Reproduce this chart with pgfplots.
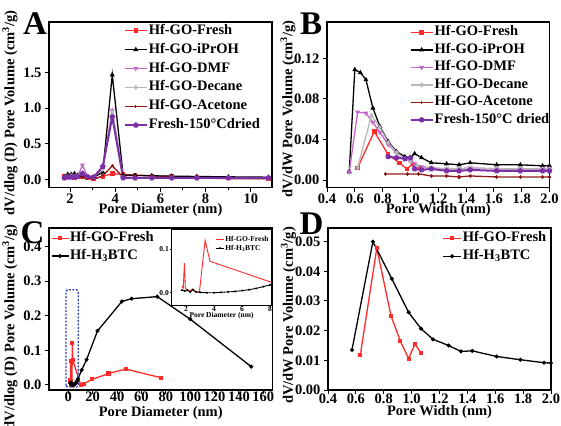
\documentclass[border=0pt]{standalone}
\usepackage{fontspec}
\setmainfont{Liberation Serif}
\usepackage{pgfplots}
\pgfplotsset{compat=1.18}
\usepackage{pgfplotstable}

\definecolor{cred}{HTML}{FF2A2A}
\definecolor{cmag}{HTML}{C266CC}
\definecolor{cgray}{HTML}{B8B8B8}
\definecolor{cdred}{HTML}{8F1A1A}
\definecolor{cpur}{HTML}{7B2FA5}
\definecolor{cblue}{HTML}{2F3FBF}

\newcommand{\fs}{\fontsize{14.5}{15}\selectfont\bfseries}
\newcommand{\fsi}{\fontsize{7.5}{8}\selectfont\bfseries}

\pgfplotsset{
  panel/.style={
    scale only axis,
    scaled ticks=false,
    tick pos=left, tick align=outside,
    axis line style={line width=1.3pt},
    every tick/.style={line width=1pt, black},
    major tick length=4pt, minor tick length=2.5pt,
    tick label style={font=\fs},
    xticklabel style={yshift=1.5pt},
    label style={font=\fs},
    /pgf/number format/assume math mode=true,
    legend cell align=left,
    legend style={draw=none, fill=none, font=\fs, row sep=3pt, inner sep=1pt,
      nodes={inner sep=1pt, text height=10pt, text depth=3pt}},
    legend image code/.code={\draw[mark repeat=2,mark phase=2,##1] plot coordinates {(0pt,0pt) (11pt,0pt) (22pt,0pt)};},
    every axis plot/.append style={line width=1.3pt, mark size=1.6pt},
  },
  fx1/.style={xticklabel={\pgfmathprintnumber[fixed,fixed zerofill,precision=1,assume math mode=true]{\tick}}},
  fy1/.style={yticklabel={\pgfmathprintnumber[fixed,fixed zerofill,precision=1,assume math mode=true]{\tick}}},
  fy2/.style={yticklabel={\pgfmathprintnumber[fixed,fixed zerofill,precision=2,assume math mode=true]{\tick}}},
}

\pgfplotstableread{
x y
1.7 0.015
1.8 0.010
1.88 0.068
1.95 0.010
2.1 0.006
2.3 0.004
2.45 0.009
2.6 0.004
2.95 0.001
3.36 0.120
3.71 0.072
10.2 0.001
13 0.004
19.5 0.016
33 0.033
47 0.046
76 0.021
}\cfresh

\pgfplotstableread{
x y
1.7 0.006
1.9 0.004
2.1 0.006
2.3 0.002
2.5 0.007
2.7 0.002
3.0 0.001
3.5 0.000
4.0 0.000
4.5 0.001
5.0 0.002
5.5 0.003
6.0 0.005
6.5 0.007
7.0 0.010
7.5 0.014
8.0 0.018
11 0.043
15 0.073
24 0.156
44 0.241
52 0.249
73 0.255
100 0.190
150 0.053
}\cbtc

\begin{document}
\begin{tikzpicture}
% ---------------- A ----------------
\begin{axis}[panel, at={(49pt,-187.5pt)}, anchor=south west,
  width=223pt, height=165.5pt,
  xmin=1.07, xmax=10.94, ymin=-0.115, ymax=2.214,
  xtick={2,4,6,8,10}, minor x tick num=1, ytick={0,0.5,1,1.5},
  fy1,
  xlabel={Pore Diameter (nm)},
  ylabel={dV/dlog (D) Pore Volume (cm\textsuperscript{3}/g)},
  xlabel style={at={(axis description cs:0.5,-0.136)}, anchor=center},
  ylabel style={at={(axis description cs:-0.175,0.45)}, anchor=center},
  legend style={at={(axis description cs:0.33,1.0)}, anchor=north west, row sep=3.9pt},
]
\addplot[cred, mark=square*] coordinates {(1.75,0.04)(1.9,0.03)(2.05,0.03)(2.2,0.02)(2.35,0.03)(2.55,0.03)(2.75,0.02)(3.05,0.01)(3.45,0.04)(3.87,0.08)(4.35,0.07)(4.88,0.06)(5.62,0.05)(6.5,0.04)(7.61,0.03)(9.01,0.02)(10.78,0.01)};
\addlegendentry{Hf-GO-Fresh}
\addplot[black, mark=triangle*] coordinates {(1.75,0.04)(1.9,0.07)(2.05,0.07)(2.2,0.08)(2.35,0.06)(2.55,0.05)(2.75,0.03)(3.05,0.03)(3.45,0.10)(3.87,1.47)(4.35,0.06)(4.88,0.055)(5.62,0.05)(6.5,0.045)(7.61,0.04)(9.01,0.035)(10.78,0.03)};
\addlegendentry{Hf-GO-iPrOH}
\addplot[cmag, mark=triangle*, mark options={rotate=180}] coordinates {(1.75,0.02)(1.9,0.04)(2.05,0.04)(2.2,0.05)(2.35,0.05)(2.55,0.20)(2.75,0.05)(3.05,0.04)(3.45,0.17)(3.87,0.97)(4.35,0.03)(4.88,0.02)(5.62,0.02)(6.5,0.02)(7.61,0.02)(9.01,0.02)(10.78,0.02)};
\addlegendentry{Hf-GO-DMF}
\addplot[cgray, mark=diamond*] coordinates {(1.75,0.03)(1.9,0.04)(2.05,0.05)(2.2,0.04)(2.35,0.05)(2.55,0.09)(2.75,0.04)(3.05,0.04)(3.45,0.14)(3.87,0.95)(4.35,0.03)(4.88,0.02)(5.62,0.02)(6.5,0.02)(7.61,0.02)(9.01,0.02)(10.78,0.02)};
\addlegendentry{Hf-GO-Decane}
\addplot[cdred, mark=+] coordinates {(1.75,0.03)(1.9,0.04)(2.05,0.03)(2.2,0.04)(2.35,0.03)(2.55,0.03)(2.75,0.01)(3.05,0.00)(3.45,0.05)(3.87,0.19)(4.35,0.03)(4.88,0.02)(5.62,0.02)(6.5,0.02)(7.61,0.02)(9.01,0.01)(10.78,0.01)};
\addlegendentry{Hf-GO-Acetone}
\addplot[cpur, line width=2pt, mark=pentagon*, mark size=1.8pt] coordinates {(1.75,0.02)(1.9,0.03)(2.05,0.03)(2.2,0.03)(2.35,0.04)(2.55,0.08)(2.75,0.04)(3.05,0.03)(3.45,0.18)(3.87,0.88)(4.35,0.02)(4.88,0.02)(5.62,0.02)(6.5,0.02)(7.61,0.02)(9.01,0.02)(10.78,0.02)};
\addlegendentry{Fresh-150°Cdried}
\end{axis}

% ---------------- B ----------------
\begin{axis}[panel, at={(327pt,-187.5pt)}, anchor=south west,
  width=222.5pt, height=165.5pt,
  xmin=0.4, xmax=2.0, ymin=-0.0074, ymax=0.156,
  xtick={0.4,0.6,0.8,1.0,1.2,1.4,1.6,1.8,2.0}, ytick={0,0.04,0.08,0.12},
  fx1, fy2,
  xlabel={Pore Width (nm)},
  ylabel={dV/dW Pore Volume (cm\textsuperscript{3}/g)},
  xlabel style={at={(axis description cs:0.5,-0.136)}, anchor=center},
  ylabel style={at={(axis description cs:-0.175,0.474)}, anchor=center},
  legend style={at={(axis description cs:0.366,0.99)}, anchor=north west, row sep=2.5pt},
]
\addplot[cred, mark=square*] coordinates {(0.62,0.012)(0.74,0.048)(0.84,0.025)(0.92,0.017)(0.975,0.011)(1.02,0.016)(1.06,0.013)};
\addlegendentry{Hf-GO-Fresh}
\addplot[black, mark=triangle*] coordinates {(0.56,0.008)(0.60,0.109)(0.64,0.106)(0.68,0.099)(0.73,0.071)(0.78,0.053)(0.84,0.038)(0.90,0.028)(0.96,0.023)(1.00,0.022)(1.03,0.026)(1.08,0.022)(1.15,0.017)(1.26,0.016)(1.35,0.015)(1.43,0.017)(1.62,0.015)(1.79,0.015)(1.95,0.014)(2.0,0.014)};
\addlegendentry{Hf-GO-iPrOH}
\addplot[cmag, mark=triangle*, mark options={rotate=180}] coordinates {(0.56,0.008)(0.62,0.067)(0.68,0.066)(0.73,0.057)(0.78,0.047)(0.84,0.035)(0.90,0.027)(0.96,0.021)(1.00,0.018)(1.03,0.016)(1.08,0.013)(1.15,0.012)(1.26,0.011)(1.35,0.011)(1.43,0.012)(1.62,0.011)(1.79,0.011)(1.95,0.011)(2.0,0.011)};
\addlegendentry{Hf-GO-DMF}
\addplot[cgray, mark=diamond*] coordinates {(0.62,0.012)(0.72,0.064)(0.78,0.052)(0.84,0.037)(0.90,0.027)(0.96,0.021)(1.0,0.018)(1.05,0.014)(1.15,0.012)(1.26,0.011)(1.35,0.011)(1.43,0.012)(1.62,0.011)(1.79,0.011)(1.95,0.011)(2.0,0.011)};
\addlegendentry{Hf-GO-Decane}
\addplot[cdred, mark=+] coordinates {(0.82,0.006)(0.98,0.006)(1.06,0.006)(1.15,0.004)(1.26,0.004)(1.35,0.003)(1.43,0.004)(1.62,0.003)(1.79,0.003)(1.95,0.003)(2.0,0.003)};
\addlegendentry{Hf-GO-Acetone}
\addplot[cpur, line width=2pt, mark=pentagon*, mark size=1.8pt] coordinates {(0.84,0.023)(0.90,0.022)(0.96,0.021)(1.0,0.022)(1.03,0.011)(1.08,0.010)(1.15,0.011)(1.26,0.009)(1.35,0.009)(1.43,0.010)(1.62,0.009)(1.79,0.009)(1.95,0.009)(2.0,0.009)};
\addlegendentry{Fresh-150°C dried}
\end{axis}

% ---------------- C ----------------
\begin{axis}[panel, at={(49pt,-390pt)}, anchor=south west,
  width=223.5pt, height=162pt,
  xmin=-15.8, xmax=167.5, ymin=-0.0145, ymax=0.453,
  xtick={0,20,...,160}, ytick={0,0.1,0.2,0.3,0.4},
  fy1,
  xticklabel style={yshift=4pt},
  xlabel={Pore Diameter (nm)},
  ylabel={dV/dlog (D) Pore Volume (cm\textsuperscript{3}/g)},
  xlabel style={at={(axis description cs:0.5,-0.14)}, anchor=center},
  ylabel style={at={(axis description cs:-0.175,0.39)}, anchor=center},
  legend style={at={(axis description cs:0.003,0.99)}, anchor=north west, row sep=2.7pt},
  legend image code/.code={\draw[mark repeat=2,mark phase=2,#1] plot coordinates {(0pt,0pt) (8.5pt,0pt) (17pt,0pt)};},
]
\addplot[cred, mark=square*, mark size=1.4pt] table[x=x,y=y] {\cfresh};
\addlegendentry{Hf-GO-Fresh}
\addplot[black, mark=*, mark size=1.3pt] table[x=x,y=y] {\cbtc};
\addlegendentry{Hf-H\textsubscript{3}BTC}
\draw[cblue, line width=1.3pt, dash pattern=on 2pt off 1.5pt, rounded corners=1.5pt]
  (axis cs:-1.9,-0.006) rectangle (axis cs:8.2,0.275);
\end{axis}

% inset
\begin{axis}[scale only axis, at={(171.5pt,-305pt)}, anchor=south west,
  width=100pt, height=76pt,
  axis background/.style={fill=white},
  xmin=0.96, xmax=8.1, ymin=-0.028, ymax=0.146,
  scaled ticks=false,
  tick pos=left, tick align=outside, major tick length=1.5pt,
  axis line style={line width=0.8pt},
  every tick/.style={line width=0.6pt, black},
  xtick={2,4,6,8}, ytick={0,0.1},
  tick label style={font=\fsi, inner sep=1pt},
  xticklabel style={yshift=1pt},
  /pgf/number format/assume math mode=true,
  fy1,
  xlabel={Pore Diameter (nm)},
  xlabel style={font=\fsi, at={(axis description cs:0.5,-0.145)}, anchor=center},
  legend cell align=left,
  legend style={draw=none, fill=none, font=\fsi, at={(axis description cs:0.41,0.95)}, anchor=north west, row sep=0pt,
    nodes={inner sep=0.8pt, text height=5.5pt, text depth=1.6pt}},
  legend image code/.code={\draw[mark repeat=2,mark phase=2,#1] plot coordinates {(0pt,0pt) (4pt,0pt) (8pt,0pt)};},
]
\addplot[cred, line width=0.9pt, mark=none] table[x=x,y=y] {\cfresh};
\addlegendentry{Hf-GO-Fresh}
\addplot[black, line width=0.9pt, mark=*, mark size=0.5pt] table[x=x,y=y] {\cbtc};
\addlegendentry{Hf-H\textsubscript{3}BTC}
\end{axis}

% ---------------- D ----------------
\begin{axis}[panel, at={(328pt,-390pt)}, anchor=south west,
  width=223pt, height=162pt,
  xmin=0.4, xmax=2.0, ymin=0, ymax=0.0546,
  xtick={0.4,0.6,0.8,1.0,1.2,1.4,1.6,1.8,2.0}, ytick={0,0.01,0.02,0.03,0.04,0.05},
  fx1, fy2,
  xticklabel style={yshift=2.5pt},
  xlabel={Pore Width (nm)},
  ylabel={dV/dW Pore Volume (cm\textsuperscript{3}/g)},
  xlabel style={at={(axis description cs:0.5,-0.138)}, anchor=center},
  ylabel style={at={(axis description cs:-0.177,0.46)}, anchor=center},
  legend style={at={(axis description cs:0.508,0.99)}, anchor=north west, row sep=3pt},
  legend image code/.code={\draw[mark repeat=2,mark phase=2,#1] plot coordinates {(0pt,0pt) (9pt,0pt) (18pt,0pt)};},
]
\addplot[cred, mark=square*, mark size=1.4pt] coordinates {(0.632,0.0118)(0.750,0.0478)(0.852,0.0250)(0.919,0.0165)(0.978,0.0106)(1.024,0.0155)(1.066,0.0126)};
\addlegendentry{Hf-GO-Fresh}
\addplot[black, mark=*, mark size=1.3pt] coordinates {(0.572,0.0135)(0.722,0.0500)(0.858,0.0375)(0.978,0.0262)(1.067,0.0207)(1.153,0.0171)(1.265,0.0150)(1.354,0.0130)(1.435,0.0132)(1.61,0.0113)(1.78,0.0102)(1.95,0.0092)(2.0,0.0091)};
\addlegendentry{Hf-H\textsubscript{3}BTC}
\end{axis}

% panel letters
\node[font=\fontsize{33}{33}\selectfont\bfseries] at (35pt,-24pt) {A};
\node[font=\fontsize{33}{33}\selectfont\bfseries] at (311pt,-24pt) {B};
\node[font=\fontsize{33}{33}\selectfont\bfseries] at (32.5pt,-233pt) {C};
\node[font=\fontsize{33}{33}\selectfont\bfseries] at (311.5pt,-224pt) {D};

\pgfresetboundingbox
\path[use as bounding box] (0pt,0pt) rectangle (561pt,-425pt);
\end{tikzpicture}
\end{document}
